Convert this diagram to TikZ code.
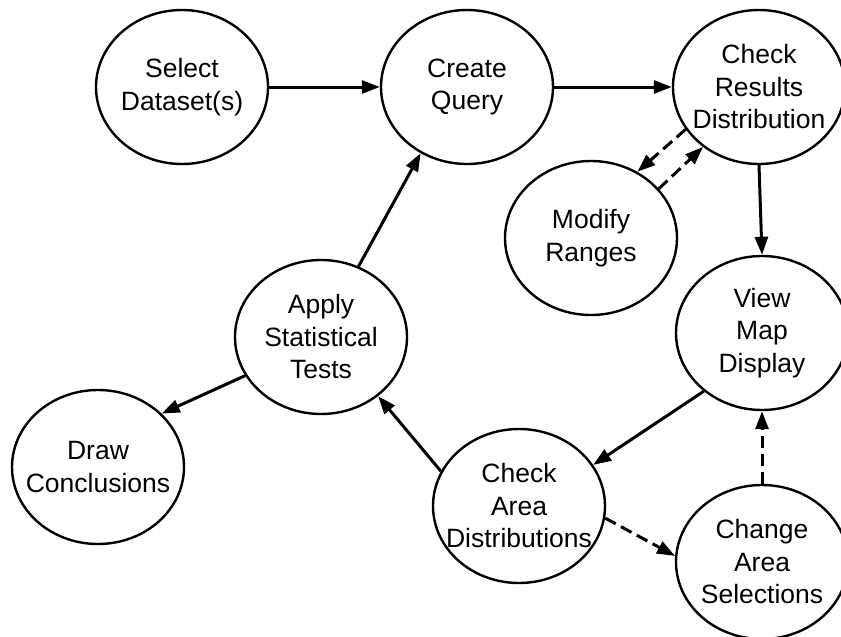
\documentclass[tikz,border=0pt]{standalone}
\usepackage{fontspec}
\setmainfont{Liberation Sans}
\usetikzlibrary{shapes.geometric,arrows.meta}

\begin{document}
\begin{tikzpicture}[x=1pt,y=-1pt,
    stage/.style={ellipse, draw, line width=2.4pt, minimum width=172pt, minimum height=154pt, inner xsep=-14pt, inner ysep=0pt, align=center, font=\fontsize{26.5}{32.5}\selectfont},
    flow/.style={line width=3pt, -{Triangle[length=18pt,width=13pt]}},
    loopback/.style={flow, dash pattern=on 12pt off 6pt}]

    \useasboundingbox (0,0) rectangle (841,637);

    \node[stage] (sel) at (182,87) {Select\\Dataset(s)};
    \node[stage] (cq)  at (467,87) {Create\\Query};
    \node[stage] (crd) at (759,87) {Check\\Results\\Distribution};
    \node[stage] (mod) at (591,238) {Modify\\Ranges};
    \node[stage] (vmd) at (762,333) {View\\Map\\Display};
    \node[stage] (ast) at (321,337) {Apply\\Statistical\\Tests};
    \node[stage] (drc) at (98,467) {Draw\\Conclusions};
    \node[stage] (cad) at (519,506) {Check\\Area\\Distributions};
    \node[stage] (cas) at (762,562) {Change\\Area\\Selections};

    % main loop
    \draw[flow] (sel.east) -- (cq.west);
    \draw[flow] (cq.east) -- (crd.west);
    \draw[flow] (crd.south) -- (vmd.north);
    \draw[flow] (vmd.225) -- (cad.29);
    \draw[flow] (cad.156) -- (ast.-46);
    \draw[flow] (ast.62) -- (cq.235);
    \draw[flow] (ast.207) -- (drc.40);

    % side loops
    \draw[loopback] (crd.210) -- (mod.55);
    \draw[loopback] (mod.36) -- (crd.227);
    \draw[loopback] (cad.-8) -- (cas.176);
    \draw[loopback] (cas.north) -- (vmd.south);

\end{tikzpicture}
\end{document}
